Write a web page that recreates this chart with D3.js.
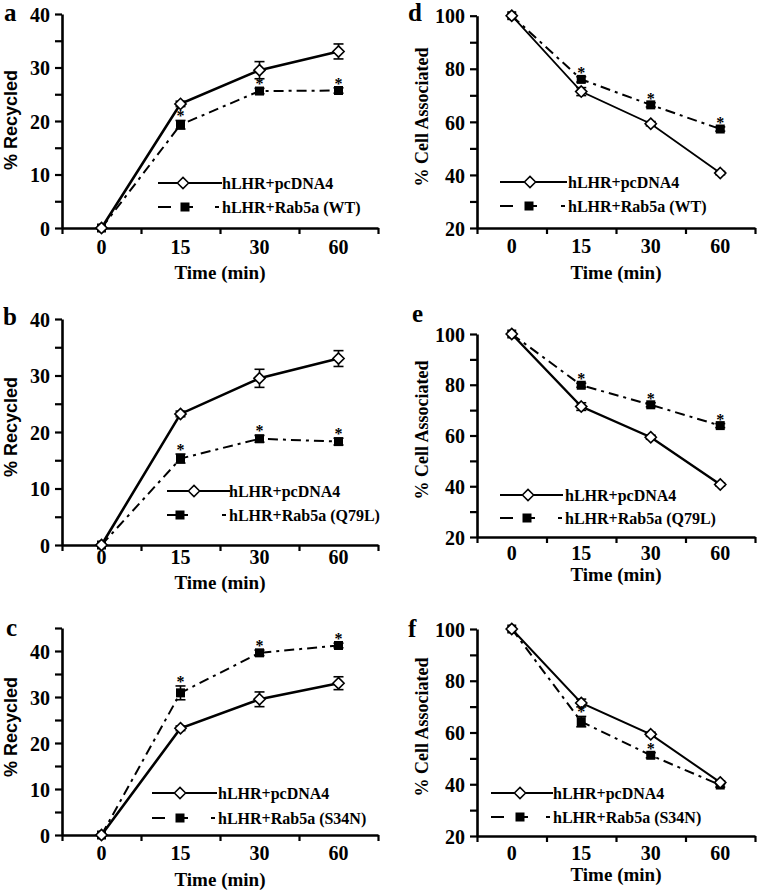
<!DOCTYPE html>
<html>
<head>
<meta charset="utf-8">
<script src="https://cdn.jsdelivr.net/npm/d3@7/dist/d3.min.js"></script>
<style>
  html, body { margin: 0; padding: 0; background: #fff; }
  svg { display: block; }
  text { font-family: "Liberation Serif", "Times New Roman", serif; font-weight: bold; fill: #000; }
</style>
</head>
<body>
<svg id="chart" width="758" height="891"></svg>
<script>
// ---------------- DATA ----------------
const timeLabels = ["0", "15", "30", "60"];
const panelLetters = ["a", "b", "c", "d", "e", "f"];
const controlLabel = "hLHR+pcDNA4";
const mutantLabels = ["hLHR+Rab5a (WT)", "hLHR+Rab5a (Q79L)", "hLHR+Rab5a (S34N)",
                      "hLHR+Rab5a (WT)", "hLHR+Rab5a (Q79L)", "hLHR+Rab5a (S34N)"];
const yTitles = ["% Recycled", "% Recycled", "% Recycled",
                 "% Cell Associated", "% Cell Associated", "% Cell Associated"];

// % Recycled (panels a-c)
const recycledControl    = [0, 23.2, 29.5, 33.0];
const recycledControlErr = [0, 0.5, 1.6, 1.4];
const recycledWT         = [0, 19.3, 25.6, 25.7];
const recycledWTErr      = [0, 0.8, 0.5, 0.5];
const recycledQ79L       = [0, 15.3, 18.8, 18.3];
const recycledQ79LErr    = [0, 0.8, 0.6, 0.6];
const recycledS34N       = [0, 30.9, 39.6, 41.2];
const recycledS34NErr    = [0, 1.5, 0.6, 0.5];

// % Cell Associated (panels d-f)
const cellControl    = [100, 71.4, 59.3, 40.7];
const cellControlErr = [0, 1.5, 0.8, 0.6];
const cellWT         = [100, 76.0, 66.4, 57.3];
const cellWTErr      = [0, 1.0, 0.8, 0.8];
const cellQ79L       = [100, 79.8, 72.1, 63.9];
const cellQ79LErr    = [0, 0.8, 0.8, 0.8];
const cellS34N       = [100, 64.2, 51.2, 39.7];
const cellS34NErr    = [0, 2.0, 1.0, 0.8];

// significance stars on the mutant series
const starsRecycled = [false, true, true, true];
const starsCellAll  = [false, true, true, true];
const starsCellS34N = [false, true, true, false];

// y-axis settings
const recycledTicks   = [0, 5, 10, 15, 20, 25, 30, 35, 40];
const recycledTicksC  = [0, 5, 10, 15, 20, 25, 30, 35, 40, 45];
const recycledLabels  = [0, 10, 20, 30, 40];
const cellTicks       = [20, 30, 40, 50, 60, 70, 80, 90, 100];
const cellLabels      = [20, 40, 60, 80, 100];

// ---------------- LAYOUT ----------------
const panels = [
  { control: recycledControl, controlErr: recycledControlErr, mutant: recycledWT, mutantErr: recycledWTErr, stars: starsRecycled,
    ydom: [0, 40], ticks: recycledTicks, labels: recycledLabels,
    left: 62, right: 378, top: 14, bottom: 228, lw: 2.6,
    letter: [4, 21], ytitle: [17, 120], tickY: 254, titleY: 279,
    leg: { lx: 158, len: 64, y1: 183, y2: 207, m1: 183, m2: 185, tx: 222 } },
  { control: recycledControl, controlErr: recycledControlErr, mutant: recycledQ79L, mutantErr: recycledQ79LErr, stars: starsRecycled,
    ydom: [0, 40], ticks: recycledTicks, labels: recycledLabels,
    left: 62, right: 378, top: 319, bottom: 545, lw: 2.6,
    letter: [3, 325], ytitle: [17, 427], tickY: 564, titleY: 589,
    leg: { lx: 167, len: 63, y1: 491, y2: 515, m1: 194, m2: 180, tx: 229 } },
  { control: recycledControl, controlErr: recycledControlErr, mutant: recycledS34N, mutantErr: recycledS34NErr, stars: starsRecycled,
    ydom: [0, 45], ticks: recycledTicksC, labels: recycledLabels,
    left: 62, right: 378, top: 628, bottom: 835, lw: 2.6,
    letter: [6, 636], ytitle: [17, 727], tickY: 860, titleY: 886,
    leg: { lx: 152, len: 65, y1: 793, y2: 818, m1: 180, m2: 180, tx: 218 } },
  { control: cellControl, controlErr: cellControlErr, mutant: cellWT, mutantErr: cellWTErr, stars: starsCellAll,
    ydom: [20, 100], ticks: cellTicks, labels: cellLabels,
    left: 477, right: 755, top: 15.7, bottom: 228, lw: 1.8,
    letter: [408, 21], ytitle: [428, 117], tickY: 253, titleY: 279,
    leg: { lx: 500, len: 67, y1: 182, y2: 206, m1: 530, m2: 529, tx: 568 } },
  { control: cellControl, controlErr: cellControlErr, mutant: cellQ79L, mutantErr: cellQ79LErr, stars: starsCellAll,
    ydom: [20, 100], ticks: cellTicks, labels: cellLabels,
    left: 477, right: 755, top: 334, bottom: 537, lw: 2.4,
    letter: [412, 322], ytitle: [428, 430], tickY: 560, titleY: 581,
    leg: { lx: 500, len: 63, y1: 495, y2: 518, m1: 528, m2: 527, tx: 565 } },
  { control: cellControl, controlErr: cellControlErr, mutant: cellS34N, mutantErr: cellS34NErr, stars: starsCellS34N,
    ydom: [20, 100], ticks: cellTicks, labels: cellLabels,
    left: 477, right: 755, top: 629, bottom: 836, lw: 2.0,
    letter: [408, 637], ytitle: [428, 727], tickY: 860, titleY: 881,
    leg: { lx: 491, len: 62, y1: 793, y2: 817, m1: 520, m2: 520, tx: 553 } }
];

const svg = d3.select("#chart");
const dashPattern = "10,5,3,5";
const diamond = d3.symbol().type(d3.symbolDiamond2).size(80);

panels.forEach((p, i) => {
  const g = svg.append("g");
  const x = d3.scaleBand().domain(timeLabels).range([p.left, p.right]).padding(0);
  const xEdges = d3.scaleLinear().domain([0, timeLabels.length]).range([p.left, p.right]);
  const y = d3.scaleLinear().domain(p.ydom).range([p.bottom, p.top]);
  const cx = k => x(timeLabels[k]) + x.bandwidth() / 2;

  // Y axis
  const yAxis = d3.axisLeft(y).tickValues(p.ticks).tickSize(7).tickSizeOuter(0)
    .tickPadding(5).tickFormat(v => p.labels.includes(v) ? String(v) : "");
  const ya = g.append("g").attr("transform", `translate(${p.left},0)`).call(yAxis);
  ya.select(".domain").attr("stroke", "#000").attr("stroke-width", 2.6);
  ya.selectAll(".tick line").attr("stroke", "#000").attr("stroke-width", 2.2);
  ya.selectAll(".tick text").attr("font-size", 20).attr("font-family", null).attr("dy", "0.36em");

  // X axis: ticks at category boundaries
  const xTicks = d3.axisBottom(xEdges).ticks(timeLabels.length).tickSize(6).tickSizeOuter(0).tickFormat("");
  const xa = g.append("g").attr("transform", `translate(0,${p.bottom})`).call(xTicks);
  xa.select(".domain").attr("stroke", "#000").attr("stroke-width", 2.6);
  xa.selectAll(".tick line").attr("stroke", "#000").attr("stroke-width", 2.2);
  // X labels at category centers
  const xLab = d3.axisBottom(x).tickSize(0).tickPadding(0);
  const xl = g.append("g").attr("transform", `translate(0,${p.tickY})`).call(xLab);
  xl.select(".domain").remove();
  xl.selectAll(".tick text").attr("font-size", 20).attr("font-family", null).attr("dy", 0).attr("y", 0);

  // axis titles
  g.append("text").attr("x", (p.left + p.right) / 2).attr("y", p.titleY)
    .attr("text-anchor", "middle").attr("font-size", 19).text("Time (min)");
  const yt = g.append("text")
    .attr("transform", `translate(${p.ytitle[0]},${p.ytitle[1]}) rotate(-90)`)
    .attr("text-anchor", "middle").attr("font-size", 18).text(yTitles[i]);
  if (i < 3) yt.style("font-family", '"Liberation Sans", Arial, sans-serif');

  // panel letter
  g.append("text").attr("x", p.letter[0]).attr("y", p.letter[1])
    .attr("font-size", 25).text(panelLetters[i]);

  // lines
  const line = d3.line().x((d, k) => cx(k)).y(d => y(d));
  g.append("path").datum(p.mutant).attr("d", line).attr("fill", "none")
    .attr("stroke", "#000").attr("stroke-width", 2).attr("stroke-dasharray", dashPattern);
  g.append("path").datum(p.control).attr("d", line).attr("fill", "none")
    .attr("stroke", "#000").attr("stroke-width", p.lw);

  // error bars
  const drawErr = (vals, errs) => {
    vals.forEach((v, k) => {
      const e = errs[k];
      if (!e) return;
      const X = cx(k);
      g.append("line").attr("x1", X).attr("x2", X).attr("y1", y(v - e)).attr("y2", y(v + e))
        .attr("stroke", "#000").attr("stroke-width", 1.6);
      [v - e, v + e].forEach(b => g.append("line").attr("x1", X - 5).attr("x2", X + 5)
        .attr("y1", y(b)).attr("y2", y(b)).attr("stroke", "#000").attr("stroke-width", 1.6));
    });
  };
  drawErr(p.control, p.controlErr);
  drawErr(p.mutant, p.mutantErr);

  // mutant markers (filled squares)
  g.selectAll(".sq").data(p.mutant).enter().append("rect")
    .attr("x", (d, k) => cx(k) - 4.5).attr("y", d => y(d) - 4.5)
    .attr("width", 9).attr("height", 9).attr("fill", "#000");
  // control markers (open diamonds)
  g.selectAll(".dm").data(p.control).enter().append("path")
    .attr("d", diamond).attr("transform", (d, k) => `translate(${cx(k)},${y(d)})`)
    .attr("fill", "#fff").attr("stroke", "#000").attr("stroke-width", 1.6);

  // stars (placed just above the error bar / square)
  const starData = p.mutant.map((v, k) => ({ v, k, e: p.mutantErr[k] })).filter(o => p.stars[o.k]);
  g.selectAll(".st").data(starData).enter().append("text")
    .attr("x", o => cx(o.k)).attr("y", o => Math.min(y(o.v) - 1, y(o.v + o.e) + 1))
    .attr("text-anchor", "middle").attr("font-size", 16).text("*");

  // legend
  const L = p.leg;
  g.append("line").attr("x1", L.lx).attr("x2", L.lx + L.len).attr("y1", L.y1).attr("y2", L.y1)
    .attr("stroke", "#000").attr("stroke-width", 1.8);
  g.append("path").attr("d", diamond).attr("transform", `translate(${L.m1},${L.y1})`)
    .attr("fill", "#fff").attr("stroke", "#000").attr("stroke-width", 1.5);
  g.append("text").attr("x", L.tx).attr("y", L.y1 + 6).attr("font-size", 16).text(controlLabel);
  [[L.lx, L.lx + 13], [L.m2 - 4, L.m2 + 8], [L.tx - 7, L.tx - 3]].forEach(s =>
    g.append("line").attr("x1", s[0]).attr("x2", s[1]).attr("y1", L.y2).attr("y2", L.y2)
      .attr("stroke", "#000").attr("stroke-width", 2));
  g.append("rect").attr("x", L.m2 - 4.5).attr("y", L.y2 - 4.5).attr("width", 9).attr("height", 9).attr("fill", "#000");
  g.append("text").attr("x", L.tx).attr("y", L.y2 + 6).attr("font-size", 16).text(mutantLabels[i]);
});
</script>
</body>
</html>
